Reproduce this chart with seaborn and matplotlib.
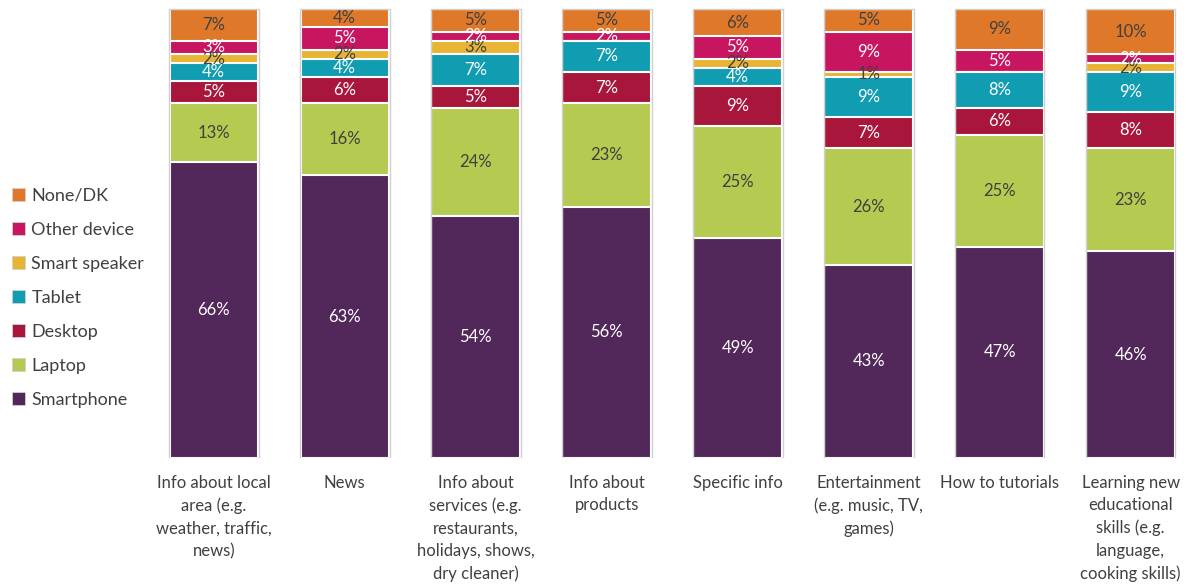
import numpy as np
import pandas as pd
import matplotlib
matplotlib.use("Agg")
import matplotlib.pyplot as plt
import seaborn as sns
from matplotlib.patches import Patch

categories = [
    "Info about local\narea (e.g.\nweather, traffic,\nnews)",
    "News",
    "Info about\nservices (e.g.\nrestaurants,\nholidays, shows,\ndry cleaner)",
    "Info about\nproducts",
    "Specific info",
    "Entertainment\n(e.g. music, TV,\ngames)",
    "How to tutorials",
    "Learning new\neducational\nskills (e.g.\nlanguage,\ncooking skills)",
]
devices = ["Smartphone", "Laptop", "Desktop", "Tablet", "Smart speaker", "Other device", "None/DK"]
smartphone = [66, 63, 54, 56, 49, 43, 47, 46]
laptop = [13, 16, 24, 23, 25, 26, 25, 23]
desktop = [5, 6, 5, 7, 9, 7, 6, 8]
tablet = [4, 4, 7, 7, 4, 9, 8, 9]
smart_speaker = [2, 2, 3, 0, 2, 1, 0, 2]
other_device = [3, 5, 2, 2, 5, 9, 5, 2]
none_dk = [7, 4, 5, 5, 6, 5, 9, 10]

series = [smartphone, laptop, desktop, tablet, smart_speaker, other_device, none_dk]
colors = ["#52275A", "#B5CA50", "#A9163C", "#109DB2", "#E8B434", "#C8155F", "#E0782A"]
label_colors = ["white", "#404040", "white", "white", "#404040", "white", "#404040"]

plt.rcParams['font.family'] = ['Lato', 'DejaVu Sans']

vals = np.array(series, dtype=float)
cum = np.cumsum(vals, axis=0)

fig = plt.figure(figsize=(11.86, 5.84), dpi=100)
ax = fig.add_axes([0.125, 0.216, 0.878, 0.772])

# overdraw cumulative totals, top layer first
for i in range(len(devices) - 1, -1, -1):
    df = pd.DataFrame({"cat": categories, "val": cum[i]})
    sns.barplot(data=df, x="cat", y="val", color=colors[i], saturation=1,
                width=0.675, edgecolor="white", linewidth=1.5, ax=ax, order=categories)

# light grey frame round each bar
ax.bar(range(len(categories)), cum[-1], width=0.685, fill=False,
       edgecolor="#d0d0d0", linewidth=1.0)

for i in range(len(devices)):
    bottoms = cum[i] - vals[i]
    for j in range(len(categories)):
        if vals[i][j] <= 0:
            continue
        ax.text(j, bottoms[j] + vals[i][j] / 2, f"{int(vals[i][j])}%",
                ha="center", va="center", fontsize=12, color=label_colors[i])

ax.set_xlim(-0.5, 7.45)
ax.set_ylim(0, 100.5)
ax.set_xlabel("")
ax.set_ylabel("")
ax.set_yticks([])
ax.tick_params(axis="x", length=0, pad=12, labelsize=12, labelcolor="#404040")
for lab in ax.get_xticklabels():
    lab.set_linespacing(1.5)
    lab.set_va("top")
for s in ax.spines.values():
    s.set_visible(False)

handles = [Patch(facecolor=colors[i], edgecolor="#d0d0d0", linewidth=0.6, label=devices[i])
           for i in range(len(devices) - 1, -1, -1)]
fig.legend(handles=handles, loc="center left", bbox_to_anchor=(-0.004, 0.49),
           frameon=False, fontsize=13, labelcolor="#404040", handlelength=0.75,
           handleheight=0.75, handletextpad=0.35, labelspacing=1.0)

fig.savefig("out.png", dpi=100)
